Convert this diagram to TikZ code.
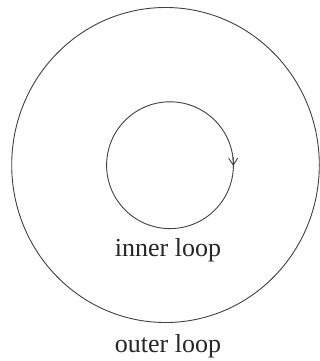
\documentclass[tikz,border=0pt]{standalone}
\usepackage{fontspec}
\setmainfont{Liberation Serif}
\usetikzlibrary{arrows.meta}
\begin{document}
\begin{tikzpicture}[x=1pt,y=1pt,
  loopline/.style={draw=black!75,line width=0.9pt},
  looplabel/.style={anchor=base,inner sep=0pt,font=\fontsize{26}{30}\selectfont,text=black!85}]
\useasboundingbox (0,0) rectangle (320,-361);
\draw[loopline] (165.5,-165) ellipse [x radius=153.8, y radius=157.5];
\draw[loopline] (170,-165.2) circle (63.4);
\draw[loopline,-{Straight Barb[length=7pt,width=9pt]}] (233.1,-157) -- (233.4,-166);
\node[looplabel] (inner) at (168,-256.5) {inner loop};
\node[looplabel] (outer) at (168,-352.3) {outer loop};
\end{tikzpicture}
\end{document}
